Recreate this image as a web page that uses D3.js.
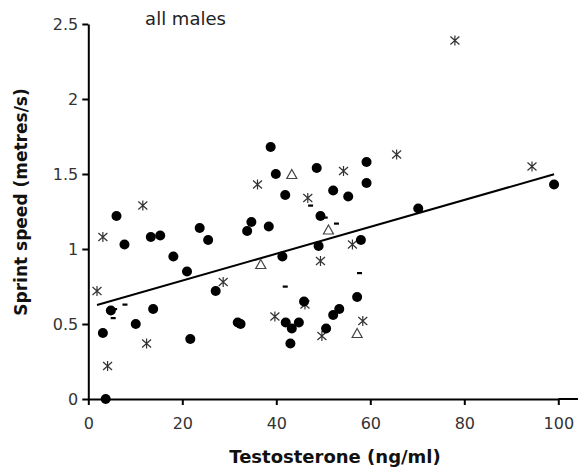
<!DOCTYPE html>
<html>
<head>
<meta charset="utf-8">
<script src="https://cdn.jsdelivr.net/npm/d3@7"></script>
<style>
  body { margin: 0; background: #fff; }
  svg { display: block; }
</style>
</head>
<body>
<div id="chart"></div>
<script>
// values, [testosterone, sprint speed]
var circles = [
  [3.7, 0], [3.1, 0.44], [4.8, 0.59], [6.0, 1.22], [7.7, 1.03], [10.1, 0.50],
  [13.3, 1.08], [13.8, 0.60], [15.3, 1.09], [18.1, 0.95], [21.0, 0.85], [21.7, 0.40],
  [23.7, 1.14], [25.5, 1.06], [27.1, 0.72], [31.8, 0.51], [32.4, 0.50], [33.8, 1.12],
  [34.7, 1.18], [38.4, 1.15], [38.8, 1.68], [39.9, 1.50], [41.3, 0.95], [41.9, 1.36],
  [42.0, 0.51], [43.0, 0.37], [43.3, 0.47], [44.8, 0.51], [45.9, 0.65], [48.6, 1.54],
  [49.0, 1.02], [49.4, 1.22], [50.6, 0.47], [52.1, 0.56], [52.1, 1.39], [53.4, 0.60],
  [55.3, 1.35], [57.2, 0.68], [58.0, 1.06], [59.2, 1.44], [59.2, 1.58], [70.2, 1.27],
  [99.1, 1.43]
];
var stars = [
  [1.85, 0.72], [3.1, 1.08], [4.1, 0.22], [11.6, 1.29], [12.4, 0.37], [28.7, 0.78],
  [36.0, 1.43], [39.7, 0.55], [46.1, 0.63], [46.7, 1.34], [49.4, 0.92], [49.7, 0.42],
  [54.3, 1.52], [56.2, 1.03], [58.4, 0.52], [65.6, 1.63], [78.0, 2.39], [94.4, 1.55]
];
var triangles = [
  [36.7, 0.90], [43.3, 1.50], [51.1, 1.13], [57.2, 0.44]
];
var dashes = [
  [5.3, 0.54], [5.6, 0.60], [7.8, 0.63], [41.9, 0.75], [47.3, 1.29], [50.4, 1.21],
  [52.8, 1.17], [57.7, 0.84]
];
var fitIntercept = 0.61;
var fitSlope = 0.00896;

var xTicks = [0, 20, 40, 60, 80, 100];
var xTickLabels = ["0", "20", "40", "60", "80", "100"];
var yTicks = [0, 0.5, 1, 1.5, 2, 2.5];
var yTickLabels = ["0", "0.5", "1", "1.5", "2", "2.5"];

var w = 578;
var h = 469;
var plotLeft = 88.3, plotRight = 558.3, plotTop = 24, plotBottom = 399;
var font = "'DejaVu Sans', Verdana, sans-serif";

var svg = d3.select("#chart")
  .append("svg")
    .attr("width", w)
    .attr("height", h);

var x = d3.scaleLinear().domain([0, 100]).range([plotLeft, plotRight]);
var y = d3.scaleLinear().domain([0, 2.5]).range([plotBottom, plotTop]);

// axes
var xAxis = svg.append("g")
  .attr("transform", "translate(0," + plotBottom + ")")
  .call(d3.axisBottom(x)
    .tickValues(xTicks)
    .tickFormat(function(d, i){ return xTickLabels[i]; })
    .tickSize(6)
    .tickSizeOuter(0)
    .tickPadding(13));

var yAxis = svg.append("g")
  .attr("transform", "translate(" + plotLeft + ",0)")
  .call(d3.axisLeft(y)
    .tickValues(yTicks)
    .tickFormat(function(d, i){ return yTickLabels[i]; })
    .tickSize(6)
    .tickSizeOuter(0)
    .tickPadding(4));

[xAxis, yAxis].forEach(function(g){
  g.select(".domain").attr("stroke", "#000").attr("stroke-width", 2);
  g.selectAll(".tick line").attr("stroke", "#000").attr("stroke-width", 2);
  g.selectAll(".tick text")
    .attr("font-family", font)
    .attr("font-size", 16)
    .attr("fill", "#333");
});

// x axis line runs on to the edge of the picture
svg.append("line")
  .attr("x1", plotRight).attr("x2", w)
  .attr("y1", plotBottom).attr("y2", plotBottom)
  .attr("stroke", "#000")
  .attr("stroke-width", 2);

// fitted line over the range of the data
var allX = circles.concat(stars, triangles, dashes).map(function(d){ return d[0]; });
var fitRange = d3.extent(allX);
svg.append("line")
  .attr("x1", x(fitRange[0]))
  .attr("y1", y(fitIntercept + fitSlope * fitRange[0]))
  .attr("x2", x(fitRange[1]))
  .attr("y2", y(fitIntercept + fitSlope * fitRange[1]))
  .attr("stroke", "#000")
  .attr("stroke-width", 2);

// asterisks
svg.selectAll("path.star")
  .data(stars)
  .enter()
  .append("path")
    .attr("class", "star")
    .attr("d", "M-4.5,-4L4.5,4M-4.5,4L4.5,-4M0,-5L0,5")
    .attr("transform", function(d){ return "translate(" + x(d[0]) + "," + y(d[1]) + ")"; })
    .attr("stroke", "#333")
    .attr("stroke-width", 1.2)
    .attr("fill", "none");

// triangles
svg.selectAll("path.tri")
  .data(triangles)
  .enter()
  .append("path")
    .attr("class", "tri")
    .attr("d", "M0,-4.5L5,4.5L-5,4.5Z")
    .attr("transform", function(d){ return "translate(" + x(d[0]) + "," + y(d[1]) + ")"; })
    .attr("fill", "none")
    .attr("stroke", "#444")
    .attr("stroke-width", 1.2);

// filled circles
svg.selectAll("circle.dot")
  .data(circles)
  .enter()
  .append("circle")
    .attr("class", "dot")
    .attr("cx", function(d){ return x(d[0]); })
    .attr("cy", function(d){ return y(d[1]); })
    .attr("r", 5)
    .attr("fill", "#000");

// short dashes
svg.selectAll("rect.dash")
  .data(dashes)
  .enter()
  .append("rect")
    .attr("class", "dash")
    .attr("x", function(d){ return x(d[0]) - 2.5; })
    .attr("y", function(d){ return y(d[1]) - 1; })
    .attr("width", 5)
    .attr("height", 2.2)
    .attr("fill", "#000");

// labels
svg.append("text")
  .text("all males")
  .attr("x", 185.5)
  .attr("y", 25)
  .attr("text-anchor", "middle")
  .attr("font-family", font)
  .attr("font-size", 18)
  .attr("fill", "#222");

svg.append("text")
  .text("Testosterone (ng/ml)")
  .attr("x", 335)
  .attr("y", 463)
  .attr("text-anchor", "middle")
  .attr("font-family", font)
  .attr("font-weight", "bold")
  .attr("font-size", 18)
  .attr("fill", "#111");

svg.append("text")
  .text("Sprint speed (metres/s)")
  .attr("transform", "translate(27,202) rotate(-90)")
  .attr("text-anchor", "middle")
  .attr("font-family", font)
  .attr("font-weight", "bold")
  .attr("font-size", 17)
  .attr("fill", "#111");
</script>
</body>
</html>
